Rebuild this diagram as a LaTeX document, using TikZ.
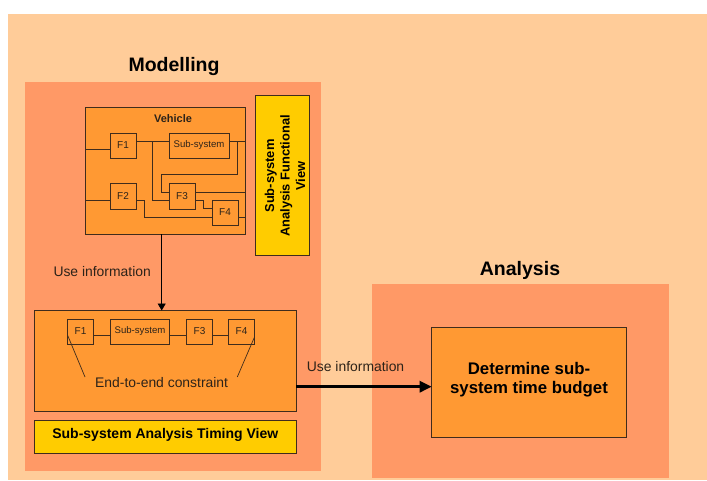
\documentclass[tikz,border=0pt]{standalone}
\usepackage{fontspec}
\setmainfont{Liberation Sans}
\usetikzlibrary{arrows.meta,calc}
\definecolor{bgpeach}{RGB}{255,204,153}
\definecolor{salmon}{RGB}{255,153,102}
\definecolor{boxorange}{RGB}{255,153,51}
\definecolor{yel}{RGB}{255,204,0}
\definecolor{edge}{RGB}{64,44,28}
\definecolor{txt}{RGB}{45,35,25}
\begin{document}
\begin{tikzpicture}[x=1pt,y=-1pt,
  area/.style={fill=#1,draw=none,inner sep=0pt,outer sep=0pt,anchor=north west},
  obox/.style={draw=edge,line width=0.9pt,fill=boxorange,inner sep=0pt,outer sep=0pt,anchor=north west},
  ybox/.style={draw=edge,line width=0.9pt,fill=yel,inner sep=0pt,outer sep=0pt,anchor=north west},
  fbox/.style={obox,text=txt,font=\fontsize{10}{12}\selectfont},
  sbox/.style={obox,text=txt,font=\fontsize{9.6}{11}\selectfont},
  wire/.style={draw=edge,line width=0.9pt},
  title/.style={font=\bfseries\fontsize{19.5}{23}\selectfont,inner sep=0pt,anchor=base},
  lbl/.style={font=\fontsize{13.9}{16}\selectfont,inner sep=0pt,anchor=base west,text=txt}]
\useasboundingbox (0,0) rectangle (707,480);
\fill[white] (0,0) rectangle (707,480);
% backgrounds
\node[area=bgpeach,minimum width=699pt,minimum height=466pt] (bg) at (8,14) {};
\node[area=salmon,minimum width=296pt,minimum height=388.7pt] (model) at (25,82) {};
\node[area=salmon,minimum width=296.6pt,minimum height=194.5pt] (anal) at (372,283.5) {};
% titles
\node[title] (tmodel) at (174,71.7) {Modelling};
\node[title] (tanal) at (520,275) {Analysis};
% vehicle box
\node[obox,minimum width=160pt,minimum height=127pt] (veh) at (85.5,107) {};
\node[font=\bfseries\fontsize{11}{13}\selectfont,text=txt,inner sep=0pt] (vehl) at (173,119) {Vehicle};
\node[fbox,minimum width=26pt,minimum height=25pt] (vf1) at (110,133) {F1};
\node[sbox,minimum width=60pt,minimum height=25pt] (vsub) at (169,133) {Sub-system};
\node[fbox,minimum width=26pt,minimum height=26pt] (vf2) at (110,183) {F2};
\node[fbox,minimum width=26pt,minimum height=26pt] (vf3) at (169,183) {F3};
\node[fbox,minimum width=26pt,minimum height=25pt] (vf4) at (212,200) {F4};
\draw[wire] (veh.west |- 0,149) -- (vf1.west |- 0,149);
\draw[wire] (veh.west |- 0,200) -- (vf2.west |- 0,200);
\draw[wire] (vf1.east |- 0,141) -- (vsub.west |- 0,141);
\coordinate (j1) at (152.7,141);
\draw[wire] (j1) -- (152.7,200) -- (vf3.west |- 0,200);
\draw[wire] (vsub.east |- 0,141) -- (veh.east |- 0,141);
\coordinate (j2) at (237.3,141);
\draw[wire] (j2) -- (237.3,174) -- (161,174) -- (161,192) -- (vf3.west |- 0,192);
\draw[wire] (vf3.east |- 0,192) -- (veh.east |- 0,192);
\draw[wire] (vf3.east |- 0,200) -- (203.3,200) -- (203.3,208.3) -- (vf4.west |- 0,208.3);
\draw[wire] (vf2.east |- 0,200) -- (144,200) -- (144,217) -- (vf4.west |- 0,217);
\draw[wire] (vf4.east |- 0,217) -- (veh.east |- 0,217);
% functional view
\node[ybox,minimum width=54pt,minimum height=160pt] (fview) at (255,95) {};
\node[rotate=90,align=center,font=\bfseries\fontsize{12.9}{15.5}\selectfont,inner sep=0pt] (fviewl) at (285,176) {Sub-system\\Analysis Functional\\View};
% timing box
\node[obox,minimum width=261.5pt,minimum height=100.5pt] (tb) at (34.5,310.5) {};
\node[fbox,minimum width=26pt,minimum height=25pt] (tf1) at (67.5,319) {F1};
\node[sbox,minimum width=59pt,minimum height=25pt] (tsub) at (110.5,319) {Sub-system};
\node[fbox,minimum width=26pt,minimum height=25pt] (tf3) at (186.5,319) {F3};
\node[fbox,minimum width=26pt,minimum height=25pt] (tf4) at (228.5,319) {F4};
\draw[wire] (tf1.east |- 0,335) -- (tsub.west |- 0,335);
\draw[wire] (tsub.east |- 0,335) -- (tf3.west |- 0,335);
\draw[wire] (tf3.east |- 0,335) -- (tf4.west |- 0,335);
\coordinate (c1) at (85,377);
\coordinate (c2) at (237.3,377);
\draw[wire,line width=0.7pt] (tf1.west |- 0,335) -- (c1);
\draw[wire,line width=0.7pt] (tf4.east |- 0,337) -- (c2);
\node[lbl] (e2e) at (95,387.3) {End-to-end constraint};
% timing view
\node[ybox,minimum width=261.5pt,minimum height=32.5pt] (tview) at (34.5,420.5) {};
\node[font=\bfseries\fontsize{14}{16}\selectfont,inner sep=0pt,anchor=base] (tviewl) at (165.3,438) {Sub-system Analysis Timing View};
% determine box
\node[obox,minimum width=194.6pt,minimum height=110pt] (det) at (431.7,327) {};
\node[align=center,font=\bfseries\fontsize{16.8}{19}\selectfont,inner sep=0pt] (detl) at (529,379.5) {Determine sub-\\system time budget};
% arrows
\draw[line width=0.9pt,-{Triangle[length=7pt,width=8pt]}] (veh.south -| 161.7,0) -- (tb.north -| 161.7,0);
\node[lbl] (use1) at (53.3,276.3) {Use information};
\draw[line width=3.5pt,-{Triangle[length=12pt,width=11pt]}] (tb.east |- 0,386.7) -- (det.west |- 0,386.7);
\node[lbl] (use2) at (306.7,371) {Use information};
\end{tikzpicture}
\end{document}
